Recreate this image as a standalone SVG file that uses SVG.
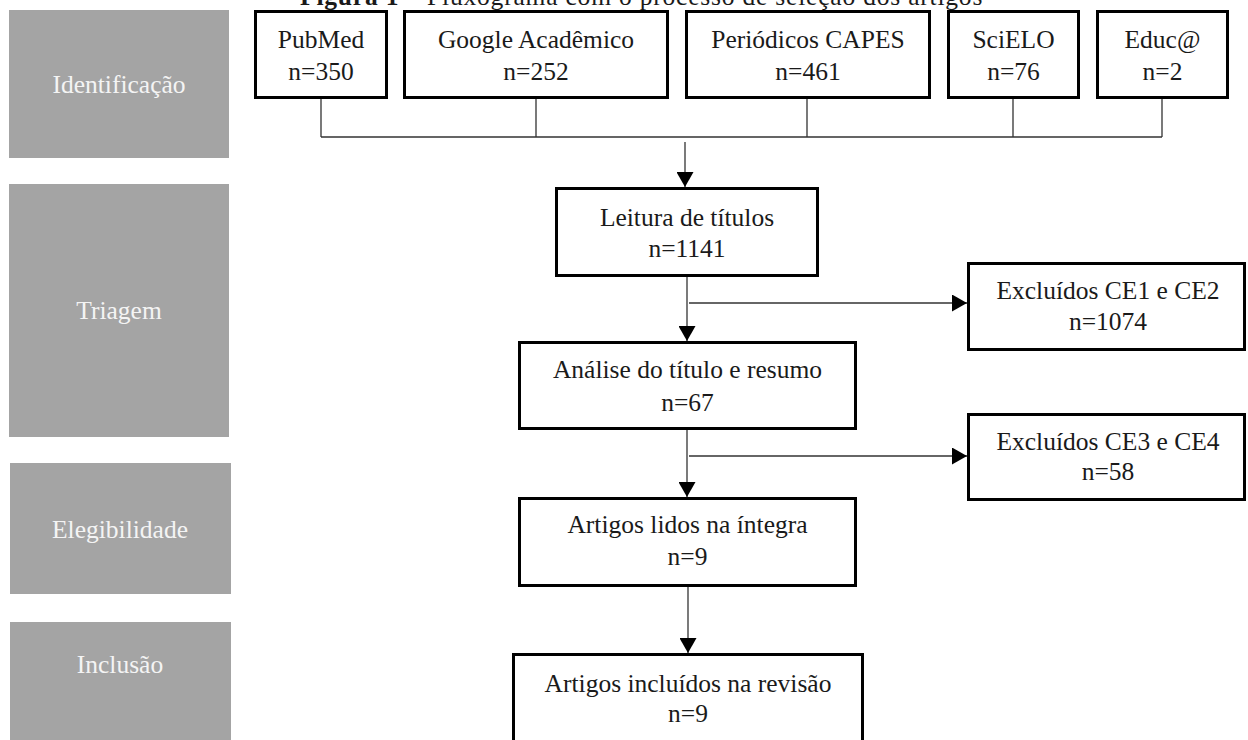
<svg xmlns="http://www.w3.org/2000/svg" width="1248" height="740" viewBox="0 0 1248 740">
  <defs>
    <style>
      .stage rect { fill: #a4a4a4; }
      .stage text { fill: #f4f4f4; font-family: "Liberation Serif", "Times New Roman", serif; font-size: 25.5px; text-anchor: middle; }
      .box rect { fill: #ffffff; stroke: #000000; stroke-width: 3; }
      .box text { fill: #1a1a1a; font-family: "Liberation Serif", "Times New Roman", serif; font-size: 25.5px; text-anchor: middle; }
      .conn { fill: none; stroke: #333333; stroke-width: 1.3; }
      .title { fill: #1a1a1a; font-family: "Liberation Serif", "Times New Roman", serif; font-size: 25.5px; letter-spacing: 0.8px; }
    </style>
    <marker id="arrow" viewBox="0 0 15 17" refX="15" refY="8.5" markerWidth="15" markerHeight="17" markerUnits="userSpaceOnUse" orient="auto">
      <path d="M0,0 L15,8.5 L0,17 z" fill="#000000"/>
    </marker>
  </defs>
  <rect x="0" y="0" width="1248" height="740" fill="#ffffff"/>

  <text class="title" x="300" y="5"><tspan font-weight="bold">Figura 1</tspan> – Fluxograma com o processo de seleção dos artigos</text>

  <g id="stage-identificacao" class="stage">
    <rect x="9" y="10" width="220" height="148"/>
    <text x="119" y="93">Identificação</text>
  </g>
  <g id="stage-triagem" class="stage">
    <rect x="9" y="184" width="220" height="253"/>
    <text x="119" y="319">Triagem</text>
  </g>
  <g id="stage-elegibilidade" class="stage">
    <rect x="10" y="463" width="221" height="131"/>
    <text x="120" y="538">Elegibilidade</text>
  </g>
  <g id="stage-inclusao" class="stage">
    <rect x="10" y="622" width="221" height="130"/>
    <text x="120" y="673">Inclusão</text>
  </g>

  <g id="connectors">
    <path class="conn" d="M321,99 V137 M536,99 V137 M807,99 V137 M1013,99 V137 M1162,99 V137 M321,137 H1162"/>
    <path class="conn" d="M685,142 V187" marker-end="url(#arrow)"/>
    <path class="conn" d="M687,277 V341" marker-end="url(#arrow)"/>
    <path class="conn" d="M689,303 H967" marker-end="url(#arrow)"/>
    <path class="conn" d="M687,430 V497" marker-end="url(#arrow)"/>
    <path class="conn" d="M689,456 H967" marker-end="url(#arrow)"/>
    <path class="conn" d="M688,587 V653" marker-end="url(#arrow)"/>
  </g>

  <g id="pubmed" class="box">
    <rect x="255.5" y="11.5" width="131" height="86"/>
    <text x="321" y="48">PubMed</text>
    <text x="321" y="80">n=350</text>
  </g>
  <g id="google" class="box">
    <rect x="404.5" y="11.5" width="263" height="86"/>
    <text x="536" y="48">Google Acadêmico</text>
    <text x="536" y="80">n=252</text>
  </g>
  <g id="capes" class="box">
    <rect x="686.5" y="11.5" width="243" height="86"/>
    <text x="808" y="48">Periódicos CAPES</text>
    <text x="808" y="80">n=461</text>
  </g>
  <g id="scielo" class="box">
    <rect x="948.5" y="11.5" width="130" height="86"/>
    <text x="1013.5" y="48">SciELO</text>
    <text x="1013.5" y="80">n=76</text>
  </g>
  <g id="educa" class="box">
    <rect x="1097.5" y="11.5" width="130" height="86"/>
    <text x="1162.5" y="48">Educ@</text>
    <text x="1162.5" y="80">n=2</text>
  </g>

  <g id="leitura" class="box">
    <rect x="556.5" y="188.5" width="261" height="87"/>
    <text x="687" y="226">Leitura de títulos</text>
    <text x="687" y="257">n=1141</text>
  </g>
  <g id="excluidos-ce1-ce2" class="box">
    <rect x="968.5" y="263.5" width="276" height="86"/>
    <text x="1108" y="299">Excluídos CE1 e CE2</text>
    <text x="1108" y="330">n=1074</text>
  </g>
  <g id="analise" class="box">
    <rect x="519.5" y="342.5" width="336" height="86"/>
    <text x="687.5" y="378">Análise do título e resumo</text>
    <text x="687.5" y="411">n=67</text>
  </g>
  <g id="excluidos-ce3-ce4" class="box">
    <rect x="968.5" y="414.5" width="276" height="85"/>
    <text x="1108" y="450">Excluídos CE3 e CE4</text>
    <text x="1108" y="480">n=58</text>
  </g>
  <g id="lidos" class="box">
    <rect x="519.5" y="498.5" width="336" height="87"/>
    <text x="687.5" y="533">Artigos lidos na íntegra</text>
    <text x="687.5" y="565">n=9</text>
  </g>
  <g id="incluidos" class="box">
    <rect x="513.5" y="654.5" width="349" height="100"/>
    <text x="688" y="692">Artigos incluídos na revisão</text>
    <text x="688" y="722">n=9</text>
  </g>
</svg>
